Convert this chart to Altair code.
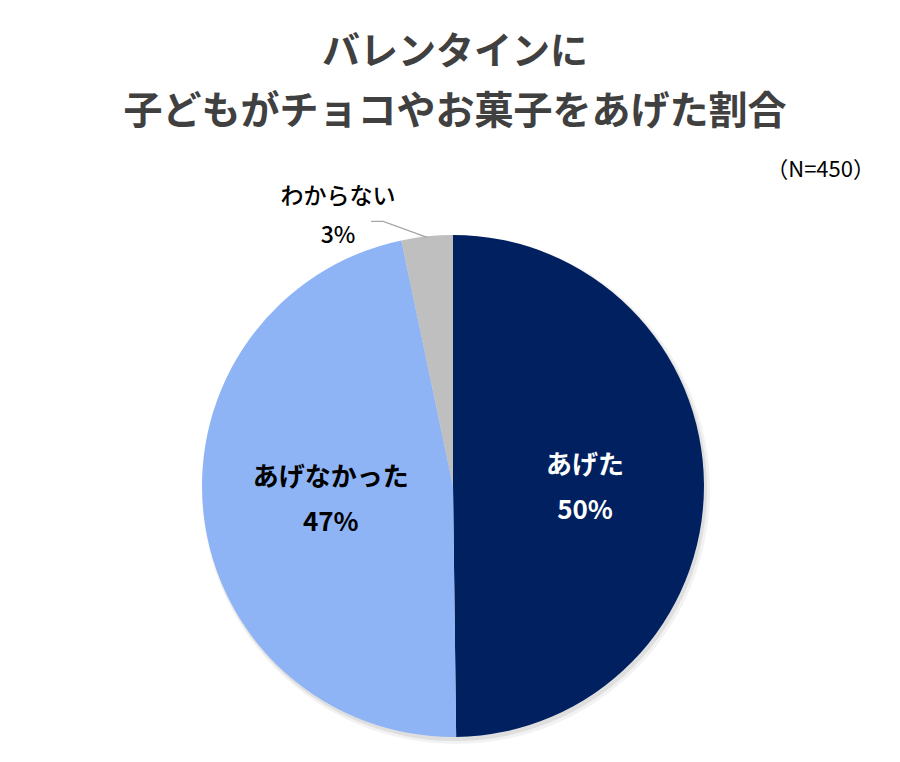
import altair as alt
import pandas as pd
import math

categories = ["あげた", "あげなかった", "わからない"]
values = [49.8, 46.9, 3.3]
labels = ["50%", "47%", "3%"]
colors = ["#002060", "#8EB4F6", "#BFBFBF"]
title_lines = ["バレンタインに", "子どもがチョコやお菓子をあげた割合"]
note = "（N=450）"

FONT = "Noto Sans CJK JP"
W, H = 884, 746
CX, CY, R = 445, 478, 251
TOTAL = sum(values)

df = pd.DataFrame({
    "cat": categories,
    "val": values,
    "lab": labels,
    "ord": list(range(len(categories))),
})
df["full"] = df["cat"] + "\n" + df["lab"]

theta_scale = alt.Scale(domain=[0, TOTAL], range=[0, 2 * math.pi])

pie = alt.Chart(df).mark_arc(outerRadius=R, stroke=None).encode(
    theta=alt.Theta("val:Q", stack=True, scale=theta_scale),
    order=alt.Order("ord:Q"),
    color=alt.Color("cat:N", scale=alt.Scale(domain=categories, range=colors), legend=None),
    x=alt.value(CX),
    y=alt.value(CY),
)

shadow1 = alt.Chart(pd.DataFrame({"a": [1]})).mark_arc(
    outerRadius=R + 3, color="#000000", opacity=0.05
).encode(theta=alt.value(2 * math.pi), x=alt.value(CX + 3), y=alt.value(CY + 4))
shadow2 = alt.Chart(pd.DataFrame({"a": [1]})).mark_arc(
    outerRadius=R + 1, color="#000000", opacity=0.08
).encode(theta=alt.value(2 * math.pi), x=alt.value(CX + 2), y=alt.value(CY + 3))

# label base: midpoint angle of each slice computed from the cumulative sum
lbase = alt.Chart(df).transform_window(
    cum="sum(val)", sort=[alt.SortField("ord")]
).transform_calculate(
    mid="datum.cum - datum.val / 2"
).encode(
    theta=alt.Theta("mid:Q", stack=None, scale=theta_scale),
    x=alt.value(CX),
    y=alt.value(CY),
    text="full:N",
)

lab_yes = lbase.transform_filter(alt.datum.ord == 0).mark_text(
    radius=132, font=FONT, fontSize=26, fontWeight="bold", color="#FFFFFF",
    lineBreak="\n", lineHeight=45, align="center", baseline="middle", dy=-19,
)

lab_no = lbase.transform_filter(alt.datum.ord == 1).mark_text(
    radius=123, font=FONT, fontSize=26, fontWeight="bold", color="#000000",
    lineBreak="\n", lineHeight=45, align="center", baseline="middle", dy=-21,
)

lab_dk = lbase.transform_filter(alt.datum.ord == 2).mark_text(
    radius=R, font=FONT, fontSize=23, fontWeight=500, color="#000000",
    lineBreak="\n", lineHeight=39, align="center", baseline="middle", dx=-89, dy=-39,
)

# leader line for the small slice: from pie edge at slice mid-angle to elbow near label
mid = (sum(values[:2]) + values[2] / 2) / TOTAL * 2 * math.pi
ex, ey = CX + (R - 1) * math.sin(mid), CY - (R - 1) * math.cos(mid)
leader = pd.DataFrame({
    "px": [ex, ex - 44, ex - 56],
    "py": [ey, ey - 16, ey - 16],
    "o": [0, 1, 2],
})
lead = alt.Chart(leader).mark_line(color="#A6A6A6", strokeWidth=1.3).encode(
    x=alt.X("px:Q", scale=None), y=alt.Y("py:Q", scale=None), order="o:Q"
)

tdf = pd.DataFrame({"t": title_lines, "ty": [45, 104], "fs": [38, 39]})
title = alt.Chart(tdf).mark_text(
    font=FONT, fontWeight="bold", color="#404040", align="center", baseline="middle"
).encode(text="t:N", x=alt.value(447), y=alt.Y("ty:Q", scale=None),
         size=alt.Size("fs:Q", scale=None, legend=None))

ndf = pd.DataFrame({"t": [note]})
ntext = alt.Chart(ndf).mark_text(
    font=FONT, fontSize=22, color="#000000", align="right", baseline="middle"
).encode(text="t:N", x=alt.value(867), y=alt.value(162))

chart = alt.layer(shadow1, shadow2, pie, lab_yes, lab_no, lab_dk, lead, title, ntext).properties(
    width=W, height=H, autosize=alt.AutoSizeParams(type="none"), padding=0
).configure(background="#FFFFFF").configure_view(stroke=None)

chart.save("out.html", embed_options={"renderer": "svg", "actions": False})
